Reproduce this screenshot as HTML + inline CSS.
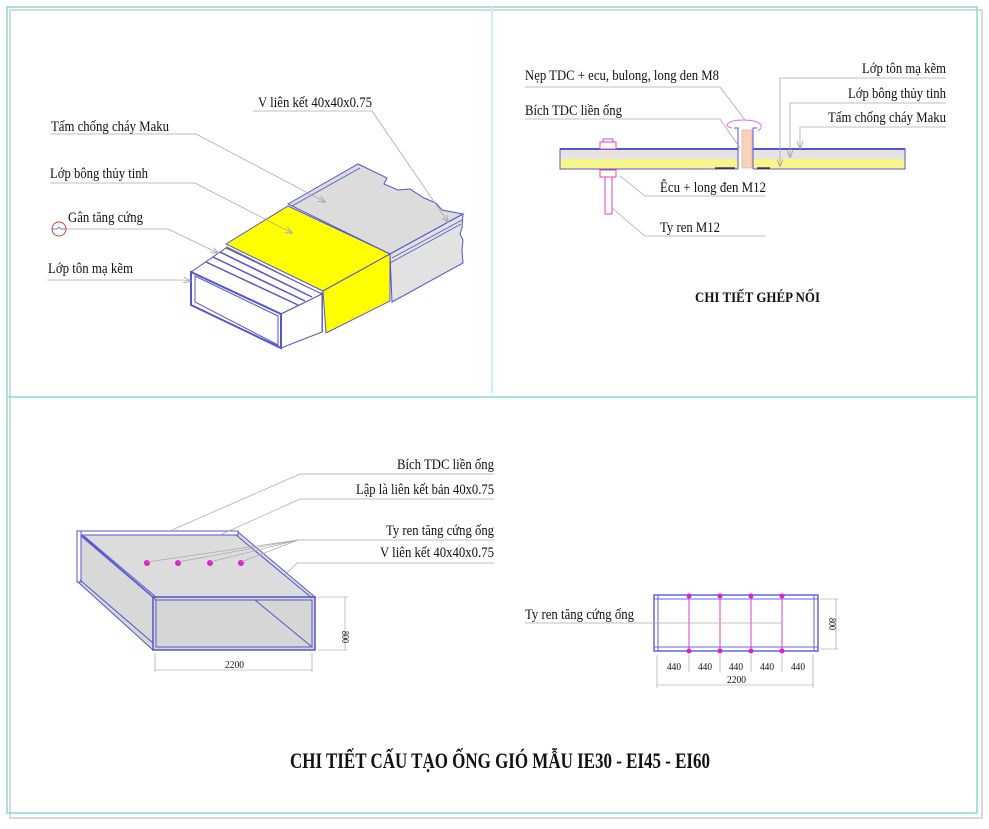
<!DOCTYPE html>
<html><head><meta charset="utf-8"><style>
html,body{margin:0;padding:0;background:#fff;}
svg{display:block;}
text{font-family:"Liberation Serif",serif;fill:#111;}
</style></head><body>
<svg width="989" height="829" viewBox="0 0 989 829" xmlns="http://www.w3.org/2000/svg">
<defs>
<marker id="ar" markerWidth="8" markerHeight="6" refX="7" refY="3" orient="auto" markerUnits="userSpaceOnUse"><path d="M0,0 L8,3 L0,6" fill="none" stroke="#aaa" stroke-width="1"/></marker>
</defs>
<!-- frame -->
<rect x="10" y="10" width="972" height="808" fill="none" stroke="#ccc" stroke-width="1.5"/>
<rect x="7" y="7" width="970" height="806" fill="none" stroke="#8dd9d9" stroke-width="1.5"/>
<line x1="7" y1="397" x2="977" y2="397" stroke="#8dd9d9" stroke-width="1.5"/>
<line x1="492" y1="7" x2="492" y2="393" stroke="#c8f1f1" stroke-width="2"/>

<!-- ===== top-left iso ===== -->
<g stroke="#5555cc" stroke-width="1">
<!-- gray maku block -->
<path d="M288,204 L358,164 L387,178 L384,184 L398,190 L410,189 L424,198 L436,203 L442,210 L463,214 L390,254 Z" fill="#dcdcdc"/>
<path d="M390,254 L463,214 L462,228 L460,234 L463,240 L462,250 L463,263 L392,302 Z" fill="#e2e2e2"/>
<line x1="392" y1="258" x2="462" y2="220" stroke-width="0.8"/>
<line x1="390" y1="263" x2="461" y2="224" stroke-width="0.8"/>
<line x1="292" y1="206" x2="360" y2="168" stroke-width="0.8"/>
<!-- yellow -->
<path d="M226,244 L288,206 L390,254 L323,291 Z" fill="#ffff00"/>
<path d="M323,291 L390,254 L390,301 L326,333 Z" fill="#ffff00"/>
<line x1="226" y1="247" x2="322" y2="295" stroke="#777" stroke-width="2"/>
<line x1="322" y1="292" x2="322" y2="332" stroke="#777" stroke-width="2"/>
<!-- galvanized inner -->
<path d="M191,272 L226,248 L322,294 L281,314 Z" fill="#fff"/>
<path d="M281,314 L322,294 L322,332 L281,348 Z" fill="#fff"/>
<path d="M191,272 L281,314 L281,348 L191,305 Z" fill="#fff" stroke-width="2"/>
<path d="M195,276 L278,316 L278,345 L195,302 Z" fill="none" stroke-width="1"/>
<line x1="206" y1="262" x2="298" y2="305" stroke-width="1.5"/>
<line x1="213" y1="257" x2="305" y2="301" stroke-width="1.5"/>
<line x1="220" y1="252" x2="312" y2="297" stroke-width="1.5"/>
</g>
<!-- top-left labels -->
<g stroke="#aaa" stroke-width="0.8" fill="none">
<polyline points="253,111 372,111 448,222" marker-end="url(#ar)"/>
<polyline points="50,134 196,134 325,202" marker-end="url(#ar)"/>
<polyline points="50,183 195,183 292,233" marker-end="url(#ar)"/>
<polyline points="65,229 168,229 218,253" marker-end="url(#ar)"/>
<polyline points="47,280 183,280 190,281" marker-end="url(#ar)"/>
</g>
<circle cx="59" cy="229" r="7" fill="none" stroke="#d04040" stroke-width="1"/>
<path d="M52,229 L57,229 Q59,226 61,229 L66,229" fill="none" stroke="#5555cc" stroke-width="0.8"/>
<text x="258" y="107" font-size="15" textLength="114" lengthAdjust="spacingAndGlyphs">V liên kết 40x40x0.75</text>
<text x="51" y="131" font-size="15" textLength="118" lengthAdjust="spacingAndGlyphs">Tấm chống cháy Maku</text>
<text x="50" y="178" font-size="15" textLength="98" lengthAdjust="spacingAndGlyphs">Lớp bông thủy tinh</text>
<text x="68" y="222" font-size="15" textLength="75" lengthAdjust="spacingAndGlyphs">Gân tăng cứng</text>
<text x="48" y="273" font-size="15" textLength="85" lengthAdjust="spacingAndGlyphs">Lớp tôn mạ kẽm</text>

<!-- ===== top-right joint detail ===== -->
<rect x="560" y="149" width="178" height="10" fill="#e4e4e4"/>
<rect x="560" y="159" width="178" height="10" fill="#f6f68a"/>
<rect x="753" y="149" width="152" height="10" fill="#e4e4e4"/>
<rect x="753" y="159" width="152" height="10" fill="#f6f68a"/>
<g stroke="#5555cc" stroke-width="1" fill="none">
<path d="M738,149 L560,149 L560,169 L738,169"/>
<path d="M753,149 L905,149 L905,169 L753,169"/>
<line x1="560" y1="149" x2="738" y2="149" stroke-width="2"/>
<line x1="753" y1="149" x2="905" y2="149" stroke-width="2"/>
<path d="M738,169 L738,128 L734,128 M753,169 L753,128 L757,128"/>
</g>
<rect x="742" y="130" width="10" height="38" fill="#f9d2b8" stroke="#c9a" stroke-width="0.5"/>
<path d="M732,128 C722,126 728,120 743,120 C758,120 766,125 758,131" fill="none" stroke="#e070e0" stroke-width="1"/>
<path d="M715,168 L735,168 M757,168 L770,168" stroke="#222" stroke-width="1.2"/>
<!-- bolt -->
<g fill="#fff" stroke="#e040c0" stroke-width="1">
<rect x="600" y="142" width="16" height="7"/>
<rect x="603" y="139" width="10" height="3"/>
<rect x="600" y="170" width="16" height="7"/>
<rect x="605" y="177" width="7" height="37"/>
</g>
<g stroke="#aaa" stroke-width="0.8" fill="none">
<polyline points="525,87 720,87 745,120"/>
<polyline points="525,119 720,119 740,148"/>
<polyline points="946,78 780,78 780,166" marker-end="url(#ar)"/>
<polyline points="946,103 790,103 790,157" marker-end="url(#ar)"/>
<polyline points="946,127 800,127 800,148" marker-end="url(#ar)"/>
<polyline points="766,196 645,196 620,176"/>
<polyline points="766,236 645,236 612,208"/>
</g>
<text x="525" y="80" font-size="15" textLength="194" lengthAdjust="spacingAndGlyphs">Nẹp TDC + ecu, bulong, long den M8</text>
<text x="525" y="115" font-size="15" textLength="97" lengthAdjust="spacingAndGlyphs">Bích TDC liền ống</text>
<text x="862" y="73" font-size="15" textLength="84" lengthAdjust="spacingAndGlyphs">Lớp tôn mạ kẽm</text>
<text x="848" y="98" font-size="15" textLength="98" lengthAdjust="spacingAndGlyphs">Lớp bông thủy tinh</text>
<text x="828" y="122" font-size="15" textLength="118" lengthAdjust="spacingAndGlyphs">Tấm chống cháy Maku</text>
<text x="660" y="192" font-size="15" textLength="106" lengthAdjust="spacingAndGlyphs">Êcu + long đen M12</text>
<text x="660" y="232" font-size="15" textLength="60" lengthAdjust="spacingAndGlyphs">Ty ren M12</text>
<text x="695" y="302" font-size="15" font-weight="bold" textLength="125" lengthAdjust="spacingAndGlyphs">CHI TIẾT GHÉP NỐI</text>

<!-- ===== bottom-left iso duct ===== -->
<g stroke="#5555cc" stroke-width="1">
<path d="M78,532 L238,532 L315,597 L153,597 Z" fill="#dcdcdc"/>
<path d="M78,532 L153,597 L153,650 L78,582 Z" fill="#d8d8d8"/>
<rect x="153" y="597" width="162" height="53" fill="#d6d6d6" stroke-width="1.5"/>
<rect x="156" y="600" width="156" height="47" fill="none"/>
<line x1="255" y1="600" x2="312" y2="647"/>
<rect x="78" y="531" width="160" height="4" fill="#fff"/>
<rect x="77" y="531" width="4" height="51" fill="#fff"/>
<line x1="81" y1="536" x2="156" y2="600"/>
<line x1="84" y1="536" x2="157" y2="598"/>
<line x1="236" y1="535" x2="312" y2="598"/>
<line x1="80" y1="580" x2="153" y2="643"/>
</g>
<g fill="#e020d0"><circle cx="147" cy="563" r="3"/><circle cx="178" cy="563" r="3"/><circle cx="210" cy="563" r="3"/><circle cx="241" cy="563" r="3"/></g>
<g stroke="#999" stroke-width="0.6" fill="none">
<line x1="318" y1="597" x2="348" y2="597"/><line x1="318" y1="650" x2="348" y2="650"/><line x1="345" y1="597" x2="345" y2="650"/>
<line x1="155" y1="653" x2="155" y2="672"/><line x1="312" y1="653" x2="312" y2="672"/><line x1="155" y1="670" x2="312" y2="670"/>
</g>
<text x="0" y="0" font-size="10" transform="translate(342,631) rotate(90)" textLength="12" lengthAdjust="spacingAndGlyphs">800</text>
<text x="225" y="668" font-size="10" font-family="Liberation Sans" textLength="19" lengthAdjust="spacingAndGlyphs">2200</text>
<g stroke="#aaa" stroke-width="0.7" fill="none">
<polyline points="494,474 300,474 172,530"/>
<polyline points="494,499 300,499 220,535"/>
<polyline points="494,540 298,540 147,562"/>
<line x1="298" y1="540" x2="178" y2="562"/><line x1="298" y1="540" x2="210" y2="562"/><line x1="298" y1="540" x2="241" y2="562"/>
<polyline points="494,563 297,563 285,575"/>
</g>
<text x="397" y="469" font-size="15" textLength="97" lengthAdjust="spacingAndGlyphs">Bích TDC liền ống</text>
<text x="356" y="494" font-size="15" textLength="138" lengthAdjust="spacingAndGlyphs">Lập là liên kết bản 40x0.75</text>
<text x="386" y="535" font-size="15" textLength="108" lengthAdjust="spacingAndGlyphs">Ty ren tăng cứng ống</text>
<text x="380" y="557" font-size="15" textLength="114" lengthAdjust="spacingAndGlyphs">V liên kết 40x40x0.75</text>

<!-- ===== bottom-right front view ===== -->
<g stroke="#6666dd" stroke-width="1" fill="none">
<rect x="654" y="595" width="164" height="56" stroke-width="1.5"/>
<line x1="654" y1="599" x2="818" y2="599"/>
<line x1="654" y1="647" x2="818" y2="647"/>
<line x1="658" y1="595" x2="658" y2="651"/>
<line x1="814" y1="595" x2="814" y2="651"/>
</g>
<g stroke="#d040d0" stroke-width="1"><line x1="689" y1="597" x2="689" y2="650"/><line x1="720" y1="597" x2="720" y2="650"/><line x1="751" y1="597" x2="751" y2="650"/><line x1="782" y1="597" x2="782" y2="650"/></g>
<g fill="#e020d0">
<circle cx="689" cy="596" r="2.5"/><circle cx="720" cy="596" r="2.5"/><circle cx="751" cy="596" r="2.5"/><circle cx="782" cy="596" r="2.5"/>
<circle cx="689" cy="651" r="2.5"/><circle cx="720" cy="651" r="2.5"/><circle cx="751" cy="651" r="2.5"/><circle cx="782" cy="651" r="2.5"/>
</g>
<line x1="525" y1="623" x2="782" y2="623" stroke="#aaa" stroke-width="0.7"/>
<text x="525" y="619" font-size="15" textLength="109" lengthAdjust="spacingAndGlyphs">Ty ren tăng cứng ống</text>
<g stroke="#999" stroke-width="0.6" fill="none">
<line x1="820" y1="599" x2="838" y2="599"/><line x1="820" y1="649" x2="838" y2="649"/><line x1="836" y1="599" x2="836" y2="649"/>
<line x1="657" y1="655" x2="657" y2="688"/><line x1="689" y1="655" x2="689" y2="672"/><line x1="720" y1="655" x2="720" y2="672"/><line x1="751" y1="655" x2="751" y2="672"/><line x1="782" y1="655" x2="782" y2="672"/><line x1="813" y1="655" x2="813" y2="688"/>
<line x1="657" y1="685" x2="813" y2="685"/>
</g>
<text x="0" y="0" font-size="10" transform="translate(829,618) rotate(90)" textLength="12" lengthAdjust="spacingAndGlyphs">800</text>
<g font-size="10" font-family="Liberation Sans">
<text x="667" y="670" textLength="14" lengthAdjust="spacingAndGlyphs">440</text>
<text x="698" y="670" textLength="14" lengthAdjust="spacingAndGlyphs">440</text>
<text x="729" y="670" textLength="14" lengthAdjust="spacingAndGlyphs">440</text>
<text x="760" y="670" textLength="14" lengthAdjust="spacingAndGlyphs">440</text>
<text x="791" y="670" textLength="14" lengthAdjust="spacingAndGlyphs">440</text>
<text x="727" y="683" textLength="19" lengthAdjust="spacingAndGlyphs">2200</text>
</g>

<!-- title -->
<text x="290" y="768" font-size="22" font-weight="bold" textLength="420" lengthAdjust="spacingAndGlyphs">CHI TIẾT CẤU TẠO ỐNG GIÓ MẪU IE30 - EI45 - EI60</text>
</svg>
</body></html>
